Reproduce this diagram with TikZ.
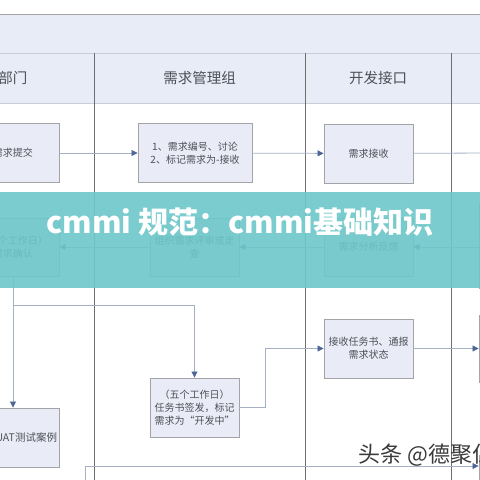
\documentclass[tikz,border=0pt]{standalone}
\usepackage{fontspec}
\setmainfont{Noto Sans CJK SC}
\usetikzlibrary{arrows.meta,positioning}
\definecolor{hdrfill}{HTML}{E8ECF6}
\definecolor{hdrline}{HTML}{C9CDD8}
\definecolor{boxfill}{HTML}{E9ECF6}
\definecolor{boxline}{HTML}{A4A4A8}
\definecolor{boxtext}{HTML}{4E5058}
\definecolor{lanecol}{HTML}{6E6E70}
\definecolor{linkcol}{HTML}{A6B0C4}
\definecolor{tipcol}{HTML}{4C6699}
\definecolor{banner}{HTML}{6CC7C9}
\definecolor{wmcol}{HTML}{3A3A3A}

\begin{document}
\begin{tikzpicture}[x=1pt,y=-1pt,
box/.style={draw=boxline,fill=boxfill,line width=0.9pt,text=boxtext,align=center,minimum width=89pt,minimum height=59pt,inner sep=2pt,font=\fontsize{10}{13}\selectfont},
arr/.style={draw=linkcol,line width=0.8pt,-{Triangle[length=6pt,width=6pt,color=tipcol]}},
link/.style={draw=linkcol,line width=0.8pt},
lane/.style={draw=lanecol,line width=0.8pt},
title/.style={text=boxtext,font=\fontsize{14.5}{17}\selectfont}]
\useasboundingbox (0,0) rectangle (480,480);
\clip (0,0) rectangle (480,480);
\fill[white] (0,0) rectangle (480,480);
% header band and lane titles
\fill[hdrfill] (0,14) rectangle (480,103);
\draw[boxline] (0,14) -- (480,14);
\draw[hdrline] (0,53) -- (480,53);
\draw[hdrline] (0,103) -- (480,103);
\draw[lane] (94,53) -- (94,480);
\draw[lane] (305,53) -- (305,480);
\draw[lane] (451,53) -- (451,480);
\node[title,anchor=east] (dept) at (31,78) {需求部门};
\node[title] (mgmt) at (199.5,78) {需求管理组};
\node[title] (dev) at (378,78) {开发接口};
% boxes
\node[box,minimum width=92pt] (submit) at (13,153) {需求提交};
\node[box,minimum width=114pt] (number) at (195,153) {1、需求编号、讨论\\2、标记需求为-接收};
\node[box] (receive) at (368.5,153.5) {需求接收};
\node[box,minimum width=92pt,minimum height=58pt] (confirm) at (13,247) {（五个工作日）\\需求确认};
\node[box,minimum height=58pt] (review) at (194.5,247) {组织需求评审或走\\查};
\node[box,minimum height=58pt] (feedback) at (368.5,247) {需求分析反馈};
\node[box,text width=88pt,align=right,font=\fontsize{10.5}{13}\selectfont] (uat) at (13,437.5) {UAT测试案例};
\node[box] (issue) at (194.5,407.5) {（五个工作日）\\任务书签发，标记\\需求为“开发中”};
\node[box] (accept) at (368.5,348.5) {接收任务书、通报\\需求状态};
\node[box,minimum height=85pt] (nextb) at (523.5,245.5) {};
\node[box,minimum height=67pt] (nextc) at (523.5,348.5) {};
\node[box,minimum height=60pt] (nextd) at (523.5,485) {};
% connectors
\coordinate (outa) at (490,153);
\coordinate (split) at (13,305);
\coordinate (low) at (85,490);
\coordinate (bend) at (85,466);
\draw[arr] (submit) -- (number);
\draw[arr] (number) -- (receive);
\draw[link] (receive) -- (outa);
\draw[arr] (nextb.west |- feedback.east) -- (feedback);
\draw[arr] (feedback) -- (review);
\draw[arr] (review) -- (confirm);
\draw[arr] (confirm) -- (uat);
\draw[arr] (split) -| (issue);
\draw[arr] (issue.east) -- ++(26,0) |- (accept.west);
\draw[arr] (accept) -- (nextc.west |- accept.east);
\draw[arr] (low) -- (bend) -- (bend -| nextd.west);
% overlay banner and watermark
\fill[banner,opacity=0.9] (0,192) rectangle (480,288);
\node[text=white,font=\bfseries\fontsize{30}{34}\selectfont] (caption) at (240,222) {cmmi 规范：cmmi基础知识};
\node[anchor=west,text=wmcol,font=\fontsize{22}{26}\selectfont] (mark) at (355,455) {头条 @德聚仁};
\end{tikzpicture}
\end{document}
